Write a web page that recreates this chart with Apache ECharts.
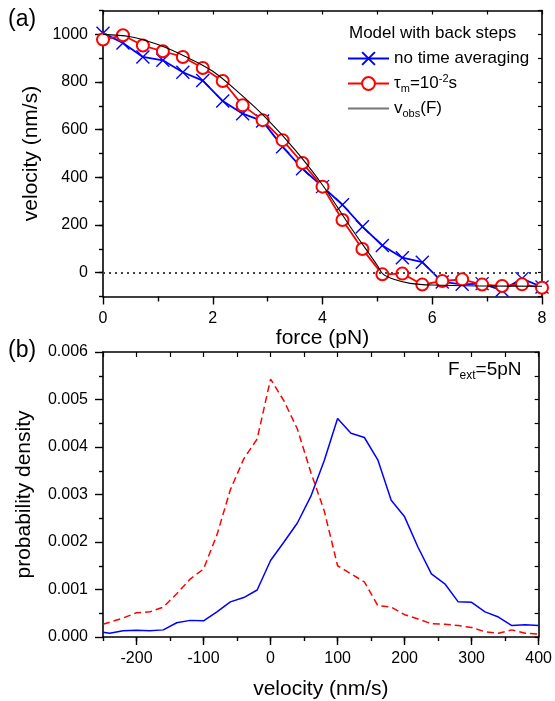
<!DOCTYPE html>
<html>
<head>
<meta charset="utf-8">
<script src="https://cdn.jsdelivr.net/npm/echarts@6/dist/echarts.min.js"></script>
<style>
html,body{margin:0;padding:0;background:#fff;}
#chart{width:555px;height:701px;}
</style>
</head>
<body>
<div id="chart"></div>
<script>
// ---- Panel (a) data ----
const forceA = [0, 0.364, 0.727, 1.091, 1.455, 1.818, 2.182, 2.545, 2.909, 3.273, 3.636, 4.0, 4.364, 4.727, 5.091, 5.455, 5.818, 6.182, 6.545, 6.909, 7.273, 7.636, 8.0];
const noAvgA = [1005, 964, 905, 891, 841, 806, 720, 667, 636, 528, 436, 361, 285, 193, 114, 63, 44, -39, -49, -46, -74, -25, -60];
const tauA = [978, 996, 953, 929, 905, 859, 804, 702, 640, 556, 460, 361, 221, 99, -7, -4, -50, -35, -28, -50, -56, -49, -63];
const forceFit = [0, 0.5, 1.0, 1.5, 2.0, 2.5, 3.0, 3.5, 4.0, 4.5, 5.0, 5.1, 5.3, 5.6, 6.0, 7.0, 8.0];
const vobsFit = [1000, 990, 957, 907, 845, 750, 642, 515, 368, 195, 30, -5, -28, -45, -52, -56, -57];
const velTicksA = [0, 200, 400, 600, 800, 1000];
const seriesNamesA = ['no time averaging', 'tau', 'vobs'];

// ---- Panel (b) data ----
const velB = [-250, -240, -220, -200, -180, -160, -140, -120, -100, -80, -60, -40, -20, 0, 20, 40, 60, 80, 100, 120, 140, 160, 180, 200, 220, 240, 260, 280, 300, 320, 340, 360, 380, 400];
const densBlue = [0.00010, 0.00008, 0.00013, 0.00014, 0.00013, 0.00015, 0.00030, 0.00035, 0.00034, 0.00053, 0.00074, 0.00083, 0.00099, 0.00161, 0.00200, 0.00240, 0.00296, 0.00371, 0.00460, 0.00429, 0.00420, 0.00373, 0.00288, 0.00253, 0.00189, 0.00133, 0.00112, 0.00074, 0.00073, 0.00053, 0.00042, 0.00024, 0.00026, 0.00024];
const densRed = [0.00027, 0.00031, 0.00040, 0.00051, 0.00053, 0.00063, 0.00091, 0.00122, 0.00143, 0.00215, 0.00310, 0.00375, 0.00417, 0.00543, 0.00497, 0.00438, 0.00347, 0.00266, 0.00150, 0.00133, 0.00116, 0.00066, 0.00063, 0.00047, 0.00038, 0.00028, 0.00027, 0.00024, 0.00020, 0.00011, 0.00008, 0.00015, 0.00008, 0.00006];
const velTicksB = [-200, -100, 0, 100, 200, 300, 400];

const FONT = '"Liberation Sans", Arial, sans-serif';
const BLUE = '#0000ff', RED = '#ff0000';
const zip = (xs, ys) => xs.map((x, i) => [x, ys[i]]);

const chart = echarts.init(document.getElementById('chart'), null, {renderer: 'canvas'});

const axisLine = {show: true, onZero: false, lineStyle: {color: '#000', width: 1.6}};
const labelStyle = {color: '#000', fontSize: 16, fontFamily: FONT};
const nameStyle = {color: '#000', fontSize: 21, fontFamily: FONT};

const option = {
  animation: false,
  backgroundColor: '#fff',
  grid: [
    {left: 103, top: 10.5, width: 439, height: 286},
    {left: 103, top: 352, width: 439, height: 286}
  ],
  xAxis: [
    {gridIndex: 0, type: 'value', position: 'bottom', min: 0, max: 8, interval: 2,
     axisLine, splitLine: {show: false},
     axisTick: {show: true, inside: false, length: 8, lineStyle: {color: '#000', width: 1.4}},
     minorTick: {show: true, splitNumber: 2, length: 5, lineStyle: {color: '#000', width: 1.4}},
     axisLabel: Object.assign({margin: 14, formatter: v => String(v)}, labelStyle),
     name: 'force (pN)', nameLocation: 'middle', nameGap: 17, nameTextStyle: nameStyle},
    {gridIndex: 0, type: 'value', position: 'top', min: 0, max: 8, interval: 1,
     axisLine, splitLine: {show: false},
     axisTick: {show: true, inside: true, length: 4, lineStyle: {color: '#000', width: 1.2}},
     axisLabel: {show: false}},
    {gridIndex: 1, type: 'value', position: 'bottom', min: -250, max: 400,
     axisLine, splitLine: {show: false},
     axisTick: {show: true, inside: false, length: 8, customValues: velTicksB, lineStyle: {color: '#000', width: 1.4}},
     axisLabel: Object.assign({margin: 14, customValues: velTicksB, formatter: v => String(v)}, labelStyle),
     name: 'velocity (nm/s)', nameLocation: 'middle', nameGap: 42, nameTextStyle: nameStyle},
    {gridIndex: 1, type: 'value', position: 'bottom', min: -250, max: 400, interval: 50,
     axisLine: {show: false}, splitLine: {show: false},
     axisTick: {show: true, inside: false, length: 4, lineStyle: {color: '#000', width: 1.4}},
     axisLabel: {show: false}},
    {gridIndex: 1, type: 'value', position: 'top', min: -250, max: 400, interval: 50,
     axisLine, splitLine: {show: false},
     axisTick: {show: true, inside: true, length: 5, lineStyle: {color: '#000', width: 1.2}},
     axisLabel: {show: false}}
  ],
  yAxis: [
    {gridIndex: 0, type: 'value', position: 'left', min: -100, max: 1100,
     axisLine, splitLine: {show: false},
     axisTick: {show: true, inside: false, length: 8, customValues: velTicksA, lineStyle: {color: '#000', width: 1.4}},
     axisLabel: Object.assign({margin: 15, customValues: velTicksA, formatter: v => String(v)}, labelStyle),
     name: 'velocity (nm/s)', nameLocation: 'middle', nameGap: 60, nameRotate: 90, nameTextStyle: nameStyle},
    {gridIndex: 0, type: 'value', position: 'left', min: -100, max: 1100, interval: 100,
     axisLine: {show: false}, splitLine: {show: false},
     axisTick: {show: true, inside: false, length: 4, lineStyle: {color: '#000', width: 1.4}},
     axisLabel: {show: false}},
    {gridIndex: 0, type: 'value', position: 'right', min: -100, max: 1100, interval: 100,
     axisLine, splitLine: {show: false},
     axisTick: {show: true, inside: true, length: 4, lineStyle: {color: '#000', width: 1.2}},
     axisLabel: {show: false}},
    {gridIndex: 1, type: 'value', position: 'left', min: 0, max: 0.006, interval: 0.001,
     axisLine, splitLine: {show: false},
     axisTick: {show: true, inside: false, length: 8, lineStyle: {color: '#000', width: 1.4}},
     minorTick: {show: true, splitNumber: 2, length: 4, lineStyle: {color: '#000', width: 1.4}},
     axisLabel: Object.assign({margin: 15, formatter: v => v.toFixed(3)}, labelStyle),
     name: 'probability density', nameLocation: 'middle', nameGap: 68, nameRotate: 90, nameTextStyle: nameStyle},
    {gridIndex: 1, type: 'value', position: 'right', min: 0, max: 0.006, interval: 0.0005,
     axisLine, splitLine: {show: false},
     axisTick: {show: true, inside: true, length: 4, lineStyle: {color: '#000', width: 1.2}},
     axisLabel: {show: false}}
  ],
  legend: {
    orient: 'vertical', left: 347, top: 50, padding: 0,
    itemWidth: 41, itemHeight: 16, itemGap: 6,
    data: [
      {name: seriesNamesA[0]},
      {name: seriesNamesA[1]},
      {name: seriesNamesA[2], itemStyle: {color: 'rgba(0,0,0,0)', borderColor: 'rgba(0,0,0,0)', borderWidth: 0}, lineStyle: {color: '#777', width: 2}}
    ],
    formatter: function (name) {
      if (name === 'tau') return '{t|τ}{sub|m}{t|=10}{sup|-2}{t|s}';
      if (name === 'vobs') return '{t|v}{sub|obs}{t|(F)}';
      return '{t|' + name + '}';
    },
    textStyle: {
      color: '#000', fontFamily: FONT, fontSize: 17,
      rich: {
        t: {fontSize: 17, fontFamily: FONT, color: '#000'},
        sub: {fontSize: 11, fontFamily: FONT, color: '#000', padding: [10, 0, 0, 0]},
        sup: {fontSize: 11, fontFamily: FONT, color: '#000', padding: [0, 0, 10, 0]}
      }
    },
    selectedMode: false
  },
  graphic: [
    {type: 'text', left: 8, top: 8, style: {text: '(a)', font: '23px ' + FONT, fill: '#000'}},
    {type: 'text', left: 8, top: 339, style: {text: '(b)', font: '23px ' + FONT, fill: '#000'}},
    {type: 'text', left: 349, top: 25, style: {text: 'Model with back steps', font: '17px ' + FONT, fill: '#000'}},
    {type: 'text', left: 448, top: 360, style: {
      text: '{F|F}{sub|ext}{F|=5pN}',
      rich: {
        F: {fontSize: 19, fontFamily: FONT, fill: '#000'},
        sub: {fontSize: 12, fontFamily: FONT, fill: '#000', padding: [12, 0, 0, 0]}
      }
    }}
  ],
  series: [
    {name: seriesNamesA[0], type: 'line', xAxisIndex: 0, yAxisIndex: 0,
     data: zip(forceA, noAvgA), symbol: 'path://M0,0L10,10M10,0L0,10', symbolSize: 13,
     itemStyle: {color: BLUE, borderColor: BLUE, borderWidth: 1.4},
     lineStyle: {color: BLUE, width: 1.8}, z: 2,
     markLine: {silent: true, symbol: 'none', label: {show: false},
       lineStyle: {type: [2, 4], color: '#444', width: 1.8},
       data: [{yAxis: 0}]}},
    {name: seriesNamesA[1], type: 'line', xAxisIndex: 0, yAxisIndex: 0,
     data: zip(forceA, tauA), symbol: 'emptyCircle', symbolSize: 12,
     itemStyle: {color: RED, borderColor: RED, borderWidth: 1.3},
     lineStyle: {color: RED, width: 1.8}, z: 3},
    {name: seriesNamesA[2], type: 'line', xAxisIndex: 0, yAxisIndex: 0,
     data: zip(forceFit, vobsFit), symbol: 'none', smooth: 0.35,
     itemStyle: {color: '#000'},
     lineStyle: {color: '#000', width: 1.1}, z: 4},
    {name: 'blueB', type: 'line', xAxisIndex: 2, yAxisIndex: 3,
     data: zip(velB, densBlue), symbol: 'none',
     lineStyle: {color: BLUE, width: 1.5}},
    {name: 'redB', type: 'line', xAxisIndex: 2, yAxisIndex: 3,
     data: zip(velB, densRed), symbol: 'none',
     lineStyle: {color: RED, width: 1.5, type: [7, 4]}}
  ]
};
chart.setOption(option);
</script>
</body>
</html>
